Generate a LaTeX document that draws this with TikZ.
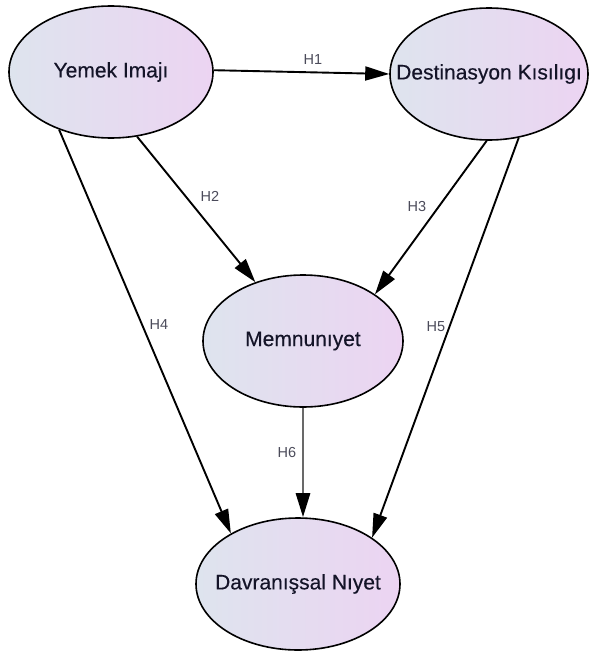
\documentclass[tikz,border=0pt]{standalone}
\usepackage{fontspec}
\setmainfont{Liberation Sans}
\newfontfamily\nodefont[FakeBold=0.35]{Liberation Sans}
\usetikzlibrary{shapes.geometric,arrows.meta}
\definecolor{lblue}{RGB}{222,228,238}
\definecolor{lpink}{RGB}{236,212,242}
\definecolor{lbl}{RGB}{75,75,90}
\definecolor{txt}{RGB}{20,20,40}
\definecolor{midgray}{RGB}{105,105,105}
\begin{document}
\begin{tikzpicture}[x=1pt,y=-1pt,
  construct/.style={ellipse, draw=black, line width=1.6pt, left color=lblue, right color=lpink,
    inner sep=0pt, minimum width=204pt, minimum height=132pt},
  every label/.style={font=\nodefont\fontsize{21}{25}\selectfont, text=txt, inner sep=0pt},
  link/.style={draw=black, line width=1.9pt, -{Triangle[length=24pt,width=14pt]}},
  graylink/.style={draw=midgray, line width=2.8pt, -{Triangle[length=24pt,width=14pt,color=black]}},
  hlabel/.style={font=\fontsize{14.5}{17}\selectfont, text=lbl, inner sep=0pt}]
\useasboundingbox (0,0) rectangle (590,653);

\node[construct, label={center:Yemek Imajı}] (Y) at (111,72) {};
\node[construct, minimum width=198pt, label={center:Destinasyon Kısılıgı}] (D) at (489,74) {};
\node[construct, minimum width=200pt, label={center:Memnunıyet}] (M) at (303,341) {};
\node[construct, label={center:Davranışsal Nıyet}] (V) at (298,584) {};

\draw[link] (Y.1) -- (D.180);
\draw[link] (Y.-68) -- (M.129);
\draw[link] (D.-92) -- (M.33);
\draw[link] (Y.-132) -- (V.143);
\draw[link] (D.-65) -- (V.32);
\draw[graylink] (M.south) -- (M.south |- V.north);

\node[hlabel] (h1) at (313,60) {H1};
\node[hlabel] (h2) at (210,196) {H2};
\node[hlabel] (h3) at (417,207) {H3};
\node[hlabel] (h4) at (159,325) {H4};
\node[hlabel] (h5) at (436,327) {H5};
\node[hlabel] (h6) at (287,453) {H6};
\end{tikzpicture}
\end{document}
